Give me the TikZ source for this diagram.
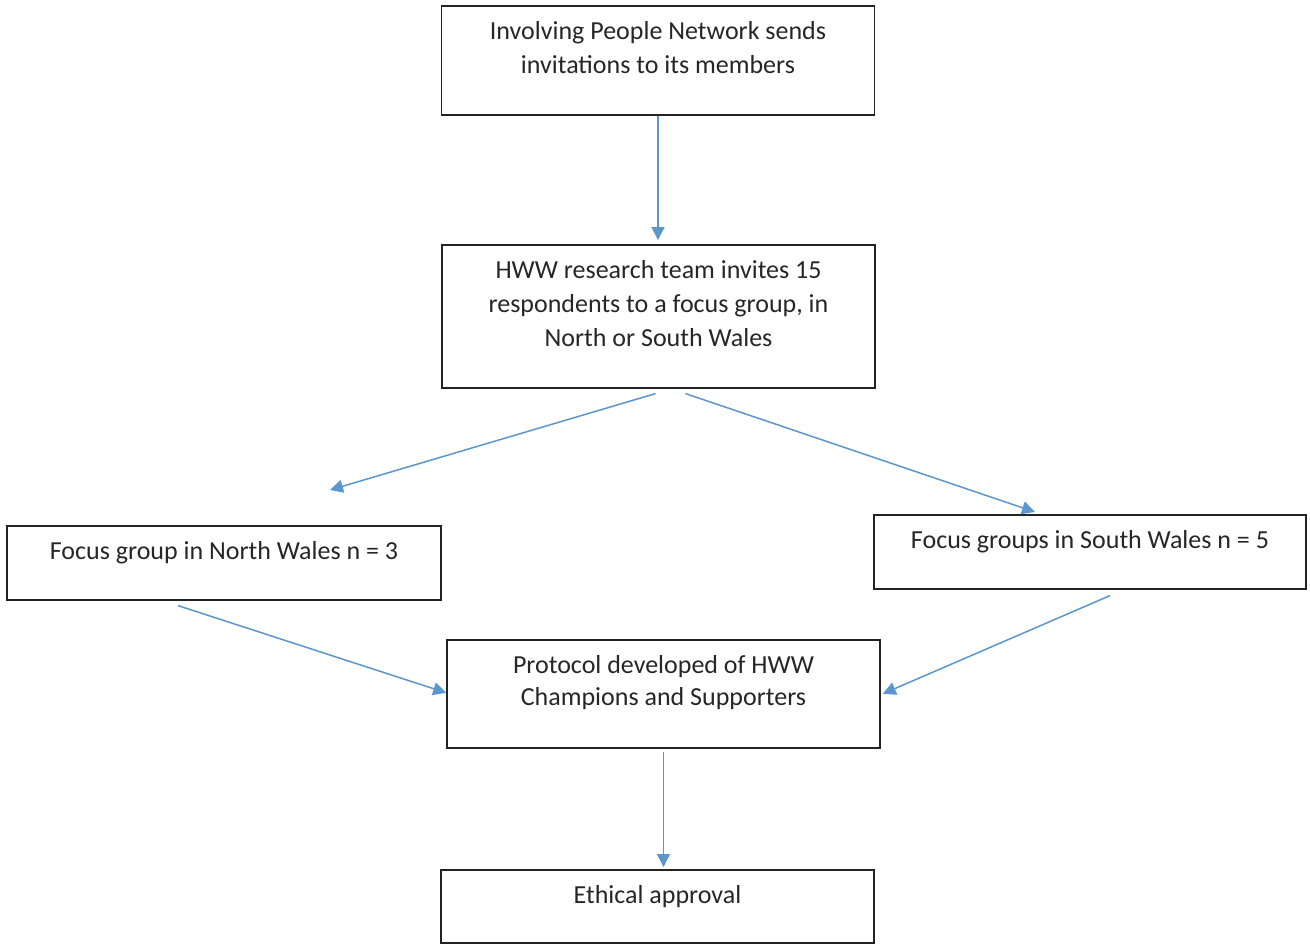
\documentclass[tikz,border=0pt]{standalone}
\usepackage{fontspec}
\setmainfont{Carlito}
\usetikzlibrary{arrows.meta,positioning,calc}
\definecolor{flowblue}{RGB}{91,150,205}
\definecolor{boxgrey}{RGB}{35,35,35}

\begin{document}
\begin{tikzpicture}[x=1pt,y=-1pt,
  stage/.style={draw=boxgrey,line width=1.6pt,rectangle,minimum width=433pt,
                align=center,anchor=north,inner xsep=0pt,inner ysep=0pt,
                text height=34pt,font=\fontsize{26}{34}\selectfont,text=black!85},
  arr/.style={-{Triangle[width=13pt,length=13pt]},line width=1.5pt,draw=flowblue,fill=flowblue}
]
  \useasboundingbox (0,0) rectangle (1310,943);
  % Stages (text height grows with the number of lines)
  \node[stage,text height=68pt,text depth=41pt] (ipn) at (658,5) {Involving People Network sends\\invitations to its members};
  \node[stage,text height=102pt,text depth=41pt] (hww) at (658.5,244) {HWW research team invites 15\\respondents to a focus group, in\\North or South Wales};
  \node[stage,text depth=40pt,minimum width=434pt] (nwales) at (224,525) {Focus group in North Wales n = 3};
  \node[stage,text depth=40pt,minimum width=432pt] (swales) at (1090,514) {Focus groups in South Wales n = 5};
  \node[stage,text height=66pt,text depth=42pt,font=\fontsize{26}{32}\selectfont] (proto) at (663.5,639) {Protocol developed of HWW\\Champions and Supporters};
  \node[stage,text depth=39pt] (ethics) at (657.5,869) {Ethical approval};
  % Flows
  \draw[arr] (ipn.south) -- ([shift={(0,-4)}]ipn.south |- hww.north);
  \draw[arr] ([shift={(-3,5)}]hww.south) -- ([shift={(106,-35)}]nwales.north);
  \draw[arr] ([shift={(27,5)}]hww.south) -- ([shift={(-55,-2)}]swales.north);
  \draw[arr] ([shift={(-46,5)}]nwales.south) -- ([shift={(0,-1)}]proto.west);
  \draw[arr] ([shift={(20,6)}]swales.south) -- ([shift={(2,0)}]proto.east);
  \draw[arr] ([shift={(0,3)}]proto.south) -- ([shift={(0,-2)}]proto.south |- ethics.north);
\end{tikzpicture}
\end{document}
